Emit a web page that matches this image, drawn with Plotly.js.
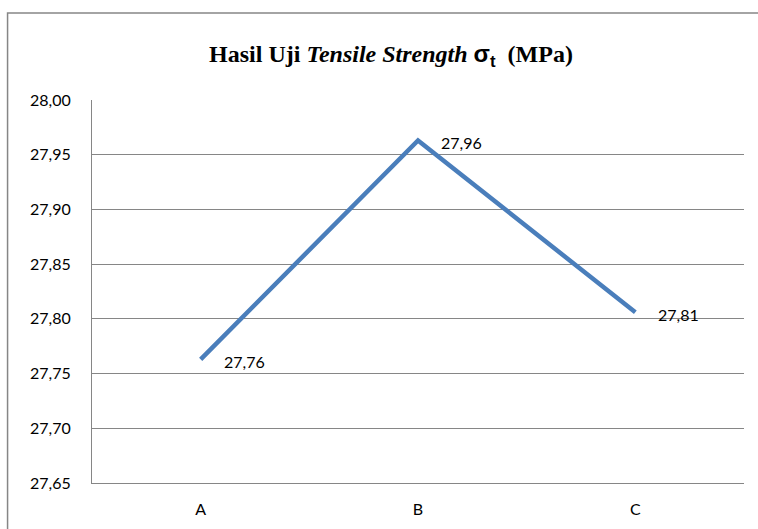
<!DOCTYPE html>
<html>
<head>
<meta charset="utf-8">
<script src="https://cdn.plot.ly/plotly-3.0.1.min.js"></script>
<style>html,body{margin:0;padding:0;background:#fff;}#chart{width:758px;height:529px;}</style>
</head>
<body>
<div id="chart"></div>
<script>
var categories = ['A', 'B', 'C'];
var values = [27.763, 27.963, 27.806];
var labels = ['27,76', '27,96', '27,81'];
var yTickVals = [27.65, 27.70, 27.75, 27.80, 27.85, 27.90, 27.95, 28.00];

var trace = {
  x: categories,
  y: values,
  type: 'scatter',
  mode: 'lines',
  line: {color: '#4A7EBB', width: 4.5},
  hoverinfo: 'skip'
};

var annotations = categories.map(function (c, i) {
  return {
    x: c, y: values[i], xref: 'x', yref: 'y',
    text: labels[i], showarrow: false,
    xanchor: 'left', yanchor: 'middle',
    xshift: 21, yshift: -2,
    font: {family: 'Lato, "Open Sans", sans-serif', size: 16, color: '#000'}
  };
});

var layout = {
  width: 758, height: 529,
  margin: {l: 91.5, r: 14, t: 100, b: 46, pad: 0},
  paper_bgcolor: '#fff', plot_bgcolor: '#fff',
  separators: ',.',
  showlegend: false,
  title: {
    text: '<b>Hasil Uji <i>Tensile Strength</i> <span style="font-family:\'Liberation Sans\', Arial, sans-serif">σ<sub>t</sub></span>  (MPa)</b>',
    font: {family: '"Liberation Serif", "Times New Roman", serif', size: 24, color: '#000'},
    x: 391 / 758, xref: 'container', xanchor: 'center',
    y: 1 - 54 / 529, yref: 'container', yanchor: 'middle'
  },
  xaxis: {
    type: 'category',
    range: [-0.5, 2.5],
    showgrid: false,
    showline: true, linecolor: '#868686', linewidth: 1,
    ticks: 'outside', ticklen: 12, tickcolor: 'rgba(0,0,0,0)',
    tickfont: {family: 'Lato, "Open Sans", sans-serif', size: 16, color: '#000'},
    zeroline: false, fixedrange: true
  },
  yaxis: {
    range: [27.65, 28.00],
    tickvals: yTickVals,
    tickformat: '.2f',
    showgrid: true, gridcolor: '#868686', gridwidth: 1,
    showline: true, linecolor: '#868686', linewidth: 1,
    ticks: 'outside', ticklen: 17, tickcolor: 'rgba(0,0,0,0)',
    tickfont: {family: 'Lato, "Open Sans", sans-serif', size: 16, color: '#000'},
    zeroline: false, fixedrange: true
  },
  annotations: annotations,
  shapes: [{
    type: 'rect', xref: 'paper', yref: 'paper',
    x0: (7 - 91.5) / 652.5, x1: 1.1,
    y0: -0.3, y1: (483 - 13) / 383,
    line: {color: '#868686', width: 1.5},
    fillcolor: 'rgba(0,0,0,0)', layer: 'below'
  }]
};

Plotly.newPlot('chart', [trace], layout, {displayModeBar: false, staticPlot: true});
</script>
</body>
</html>
